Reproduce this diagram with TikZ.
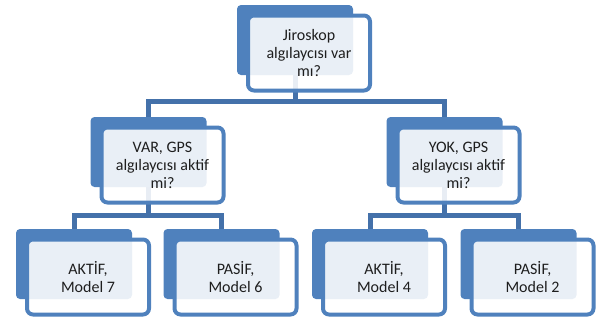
\documentclass[tikz,border=0pt]{standalone}
\usepackage{fontspec}
\setmainfont{Carlito}
\definecolor{boxblue}{HTML}{4F81BD}
\definecolor{linkblue}{HTML}{4471AA}
\definecolor{txt}{HTML}{1E1E1E}
\begin{document}
\begin{tikzpicture}[x=1pt,y=-1pt,
  backbox/.style={rectangle, rounded corners=4pt, fill=boxblue, draw=none,
    minimum width=116pt, minimum height=70pt, inner sep=0pt, outer sep=0pt},
  frontbox/.style={rectangle, rounded corners=6pt, draw=boxblue, line width=4pt,
    fill=white, fill opacity=0.88, text opacity=1, text=txt,
    minimum width=122pt, minimum height=75pt, inner sep=0pt, outer sep=0pt,
    align=center, font=\fontsize{16}{18}\selectfont},
  link/.style={draw=linkblue, line width=5pt}]
\useasboundingbox (0,0) rectangle (600,325);
% back boxes
\node[backbox] (b0) at (295,40) {};
\node[backbox] (b1) at (148.5,152) {};
\node[backbox] (b2) at (444.5,152) {};
\node[backbox] (b3) at (74,264) {};
\node[backbox] (b4) at (221.5,264) {};
\node[backbox] (b5) at (370,264) {};
\node[backbox] (b6) at (518.5,264) {};
% connectors
\draw[link] (b0.south) -- ++(0,26.5) -| (b1.north);
\draw[link] (b0.south) -- ++(0,26.5) -| (b2.north);
\draw[link] (b1.south) -- ++(0,28.5) -| (b3.north);
\draw[link] (b1.south) -- ++(0,28.5) -| (b4.north);
\draw[link] (b2.south) -- ++(0,28.5) -| (b5.north);
\draw[link] (b2.south) -- ++(0,28.5) -| (b6.north);
% front boxes
\node[frontbox] (w0) at (309,53) {Jiroskop\\algılaycısı var\\mı?};
\node[frontbox] (w1) at (162.5,165) {VAR, GPS\\algılaycısı aktif\\mi?};
\node[frontbox] (w2) at (458.5,165) {YOK, GPS\\algılaycısı aktif\\mi?};
\node[frontbox] (w3) at (88,277) {AKTİF,\\Model 7};
\node[frontbox] (w4) at (235.5,277) {PASİF,\\Model 6};
\node[frontbox] (w5) at (384,277) {AKTİF,\\Model 4};
\node[frontbox] (w6) at (532.5,277) {PASİF,\\Model 2};
\end{tikzpicture}
\end{document}
